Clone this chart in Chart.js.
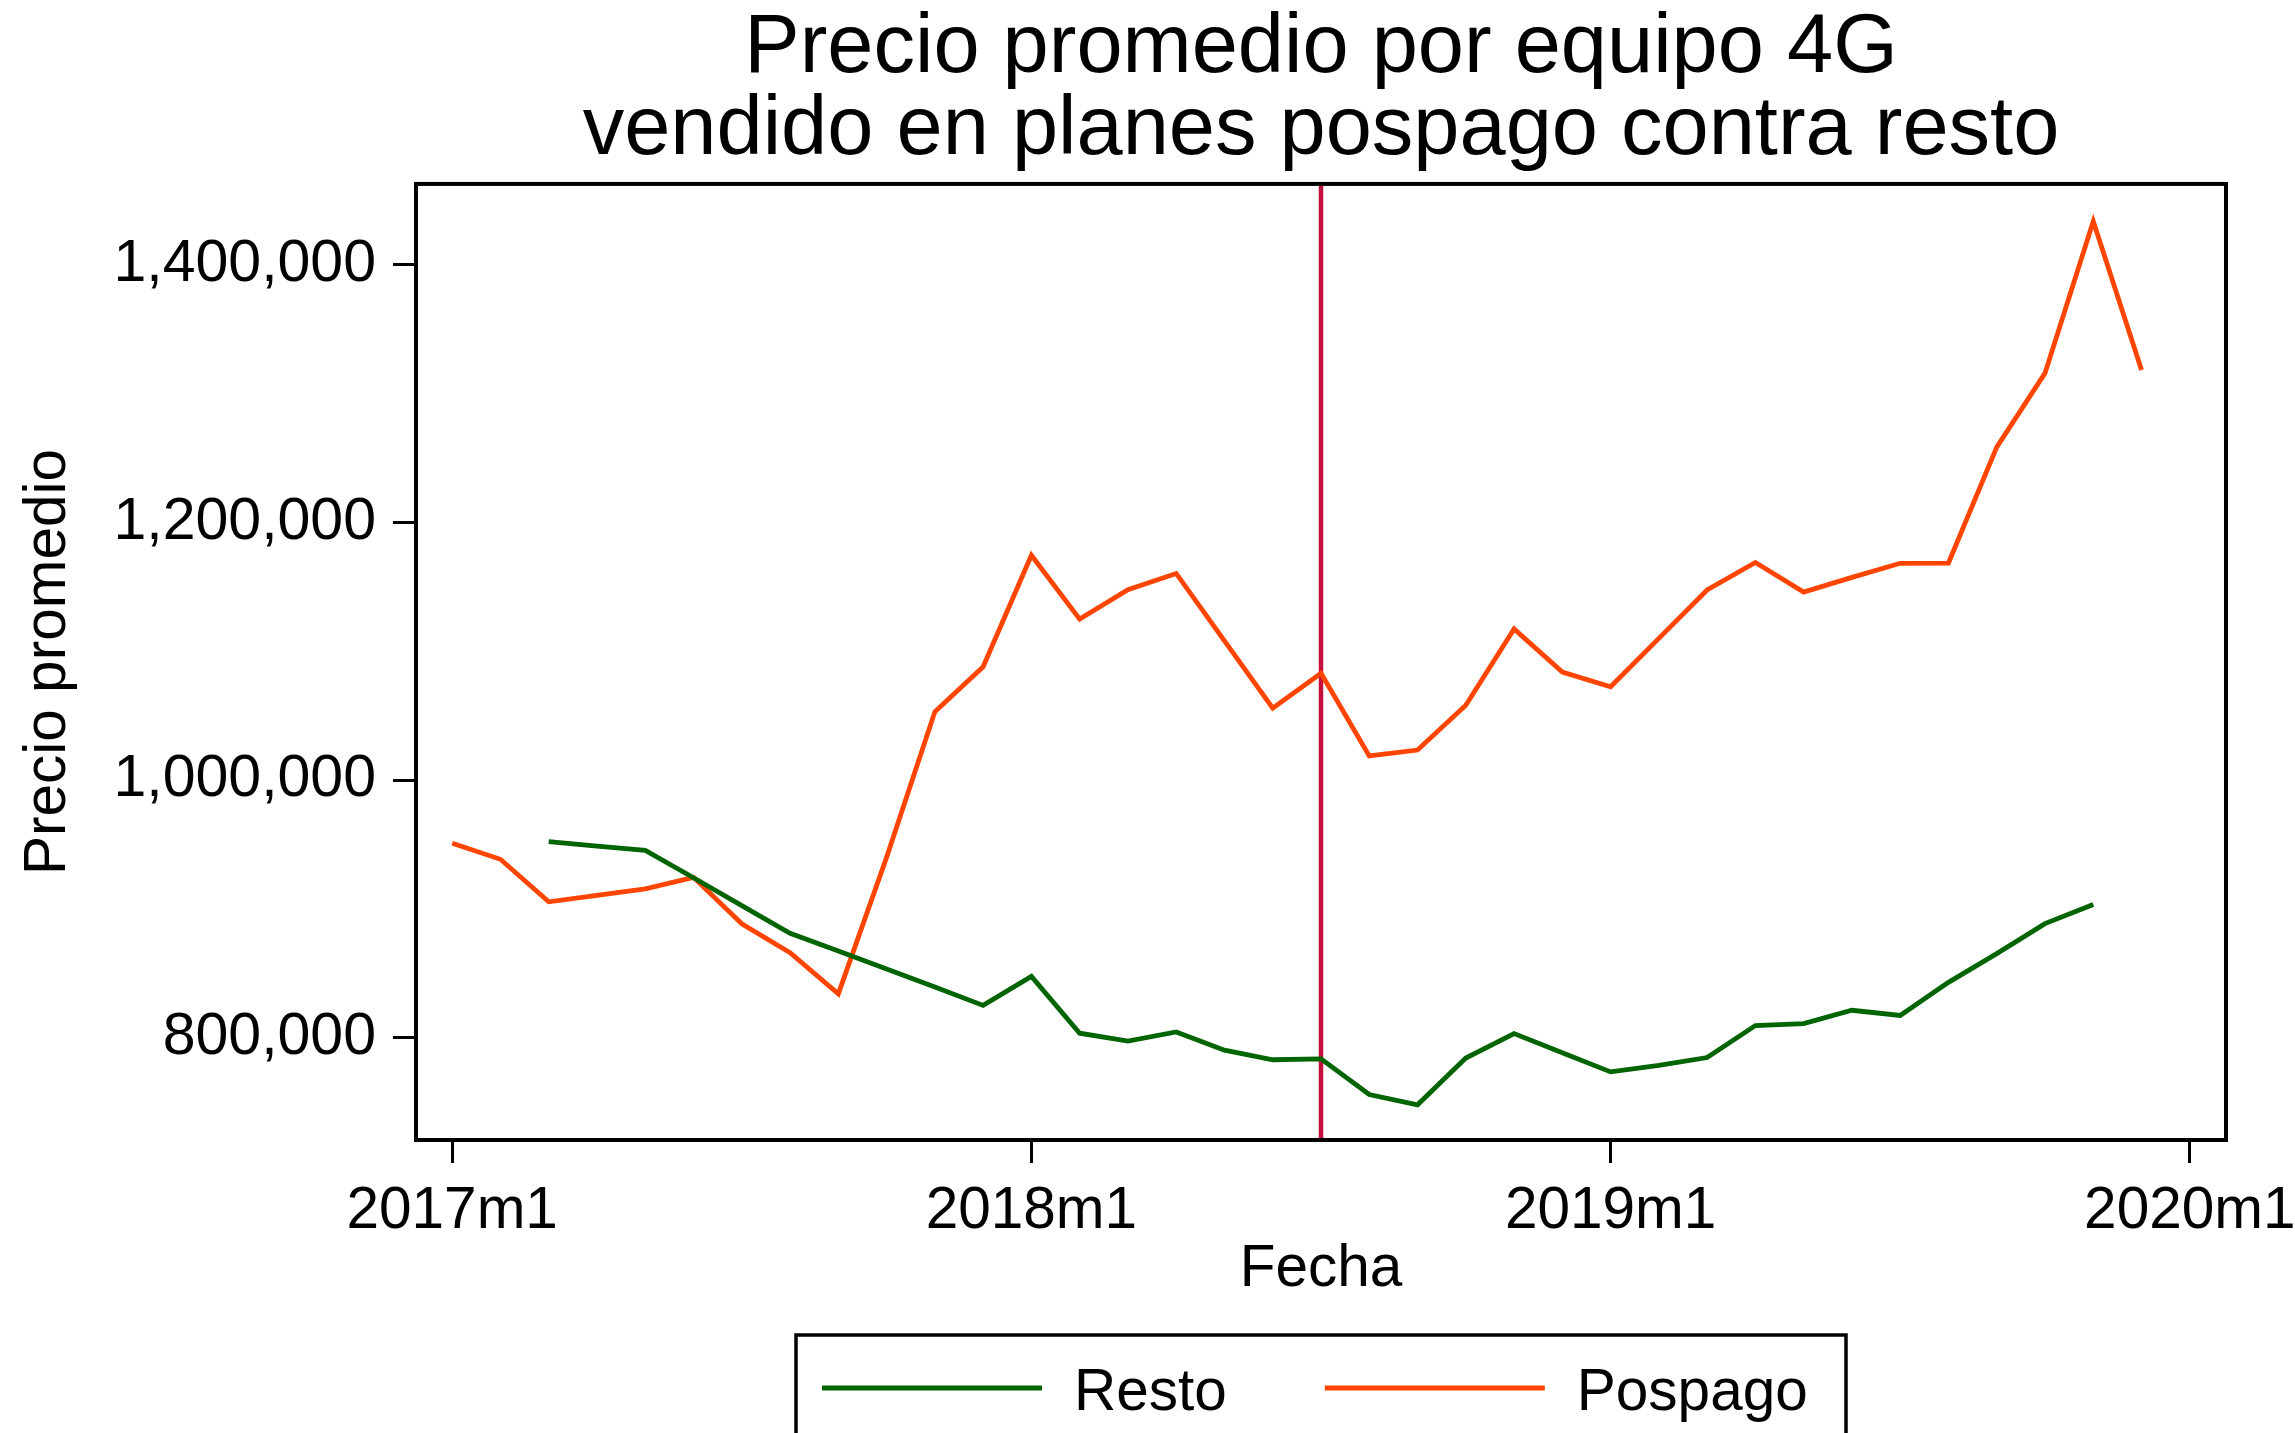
<!DOCTYPE html>
<html>
<head>
<meta charset="utf-8">
<script src="https://cdn.jsdelivr.net/npm/chart.js@4.4.0/dist/chart.umd.min.js"></script>
<style>
    html, body { margin: 0; padding: 0; background: #fff; }
    #wrap { width: 2295px; height: 1433px; }
</style>
</head>
<body>
<div id="wrap"><canvas id="chartPrecio" width="2295" height="1433"></canvas></div>
<script>
const fechas = [
    "2017m1", "2017m2", "2017m3", "2017m4", "2017m5", "2017m6",
    "2017m7", "2017m8", "2017m9", "2017m10", "2017m11", "2017m12",
    "2018m1", "2018m2", "2018m3", "2018m4", "2018m5", "2018m6",
    "2018m7", "2018m8", "2018m9", "2018m10", "2018m11", "2018m12",
    "2019m1", "2019m2", "2019m3", "2019m4", "2019m5", "2019m6",
    "2019m7", "2019m8", "2019m9", "2019m10", "2019m11", "2019m12",
];
const resto = [
    null, null, 952200, 948800, 945500, 924200,
    902600, 881100, 867300, 853400, 839300, 825100,
    847600, 803500, 797400, 804500, 790300, 782900,
    783600, 755900, 747900, 784200, 803200, 788400,
    773500, 778600, 784600, 809400, 810900, 821300,
    817300, 843000, 865300, 888600, 903500, null,
];
const pospago = [
    951000, 938500, 905500, 910500, 915500, 924500,
    888500, 866000, 834000, 940000, 1053000, 1088000,
    1174500, 1125000, 1147800, 1160400, 1108000, 1055800,
    1082900, 1018800, 1023300, 1058100, 1117300, 1083800,
    1072500, 1110000, 1147600, 1168900, 1146000, 1157400,
    1168300, 1168500, 1258500, 1315900, 1433800, 1318400,
];
const xTicks = ["2017m1", "2018m1", "2019m1", "2020m1"];
const yTicks = [800000, 1000000, 1200000, 1400000];
const fechaCorte = "2018m7";

const fuente = "'Liberation Sans', Arial, Helvetica, sans-serif";
const tamLetra = 58.5;

function mesIndex(f) {
    let partes = f.split("m");
    return (Number(partes[0]) - 2017) * 12 + (Number(partes[1]) - 1);
}

function puntos(valores) {
    return fechas.map((f, i) => ({ x: mesIndex(f), y: valores[i] }));
}

// linea vertical, marco del grafico y leyenda con recuadro
const marcoPlugin = {
    id: "marco",
    beforeDatasetsDraw(chart) {
        const { ctx, chartArea } = chart;
        const x = chart.scales.x.getPixelForValue(mesIndex(fechaCorte));
        ctx.save();
        ctx.strokeStyle = "#c4103c";
        ctx.lineWidth = 4.5;
        ctx.beginPath();
        ctx.moveTo(x, chartArea.top);
        ctx.lineTo(x, chartArea.bottom);
        ctx.stroke();
        ctx.restore();
    },
    afterDraw(chart) {
        const { ctx, chartArea } = chart;
        ctx.save();
        ctx.strokeStyle = "#000";
        ctx.lineWidth = 4;
        ctx.strokeRect(chartArea.left, chartArea.top,
            chartArea.right - chartArea.left, chartArea.bottom - chartArea.top);

        // leyenda
        const cx = (chartArea.left + chartArea.right) / 2;
        const boxW = 1050;
        const boxTop = chart.height - 98;
        ctx.lineWidth = 3.5;
        ctx.strokeRect(cx - boxW / 2, boxTop, boxW, 200);

        ctx.font = tamLetra + "px " + fuente;
        ctx.textBaseline = "alphabetic";
        ctx.fillStyle = "#000";
        let x = cx - boxW / 2 + 26;
        const yLinea = boxTop + 53;
        chart.data.datasets.forEach((ds) => {
            ctx.strokeStyle = ds.borderColor;
            ctx.lineWidth = 5;
            ctx.beginPath();
            ctx.moveTo(x, yLinea);
            ctx.lineTo(x + 220, yLinea);
            ctx.stroke();
            x += 220 + 32;
            ctx.fillText(ds.label, x, yLinea + 22);
            x += ctx.measureText(ds.label).width + 98;
        });
        ctx.restore();
    },
};

let ctx = document.getElementById("chartPrecio").getContext("2d");
let myChart = new Chart(ctx, {
    type: "line",
    data: {
        datasets: [
            {
                label: "Resto",
                data: puntos(resto),
                borderColor: "#006400",
                borderWidth: 4.8,
                pointRadius: 0,
                tension: 0,
                spanGaps: false,
            },
            {
                label: "Pospago",
                data: puntos(pospago),
                borderColor: "#ff4500",
                borderWidth: 4.8,
                pointRadius: 0,
                tension: 0,
                spanGaps: false,
            },
        ],
    },
    options: {
        responsive: false,
        animation: false,
        layout: {
            padding: { left: 0, right: 69, top: 0, bottom: 123 },
        },
        plugins: {
            legend: { display: false },
            tooltip: { enabled: false },
            title: {
                display: true,
                fullSize: false,
                text: ["Precio promedio por equipo 4G", "vendido en planes pospago contra resto"],
                color: "#000",
                font: { family: fuente, size: 83, weight: "normal", lineHeight: 0.99 },
                padding: { top: 8, bottom: 11.6 },
            },
        },
        scales: {
            x: {
                type: "linear",
                min: -0.75,
                max: 36.75,
                afterBuildTicks: (s) => {
                    s.ticks = xTicks.map((f) => ({ value: mesIndex(f) }));
                },
                afterFit: (s) => {
                    s.height = 170;
                    s.paddingLeft = 0;
                    s.paddingRight = 0;
                },
                ticks: {
                    autoSkip: false,
                    maxRotation: 0,
                    padding: 14,
                    color: "#000",
                    font: { family: fuente, size: tamLetra },
                    callback: (v) => xTicks.find((f) => mesIndex(f) === v),
                },
                grid: {
                    display: true,
                    drawOnChartArea: false,
                    drawTicks: true,
                    tickLength: 23,
                    tickWidth: 3,
                    tickColor: "#000",
                },
                border: { display: false },
                title: {
                    display: true,
                    text: "Fecha",
                    color: "#000",
                    font: { family: fuente, size: tamLetra },
                    padding: { top: 0, bottom: 5 },
                },
            },
            y: {
                min: 720600,
                max: 1462800,
                afterBuildTicks: (s) => {
                    s.ticks = yTicks.map((v) => ({ value: v }));
                },
                afterFit: (s) => {
                    s.width = 416;
                    s.paddingTop = 0;
                    s.paddingBottom = 0;
                },
                ticks: {
                    padding: 17,
                    color: "#000",
                    font: { family: fuente, size: 59 },
                    callback: (v) => v.toLocaleString("en-US"),
                },
                grid: {
                    display: true,
                    drawOnChartArea: false,
                    drawTicks: true,
                    tickLength: 23,
                    tickWidth: 3,
                    tickColor: "#000",
                },
                border: { display: false },
                title: {
                    display: true,
                    text: "Precio promedio",
                    color: "#000",
                    font: { family: fuente, size: tamLetra },
                    padding: { top: 13.5, bottom: 0 },
                },
            },
        },
    },
    plugins: [marcoPlugin],
});
</script>
</body>
</html>
